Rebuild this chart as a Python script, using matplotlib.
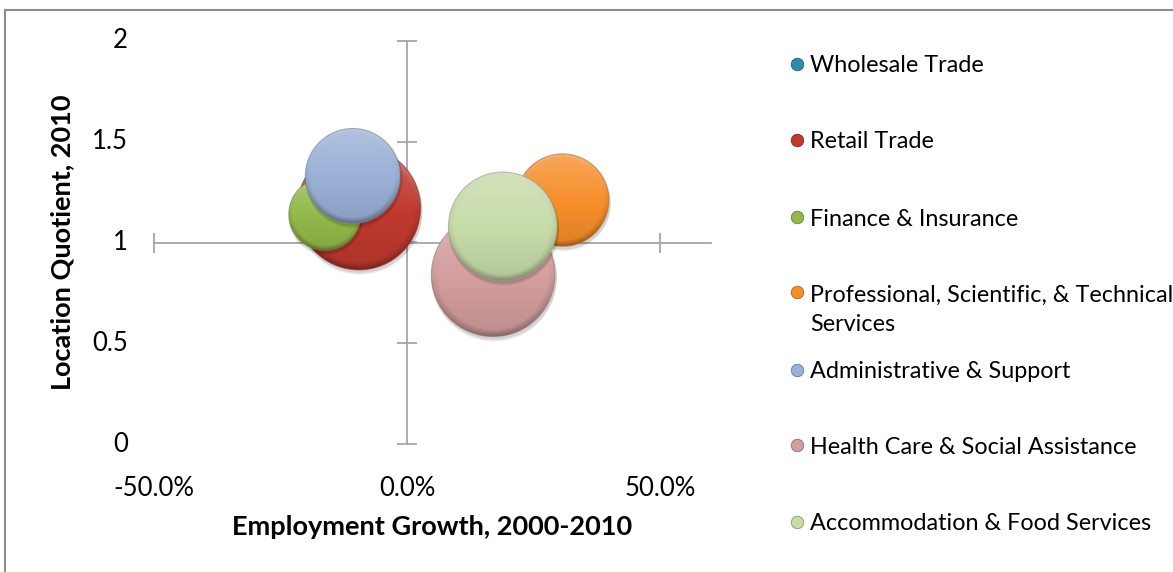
import numpy as np
import matplotlib
matplotlib.use('Agg')
import matplotlib.pyplot as plt
from matplotlib.patches import Ellipse, Rectangle
from matplotlib.transforms import blended_transform_factory
from matplotlib.colors import to_rgb

plt.rcParams['font.family'] = ['Lato', 'DejaVu Sans']

# data
industries = ['Wholesale Trade', 'Retail Trade', 'Finance & Insurance',
              'Professional, Scientific, & Technical\nServices',
              'Administrative & Support', 'Health Care & Social Assistance',
              'Accommodation & Food Services']
growth = [np.nan, -0.095, -0.162, 0.307, -0.107, 0.170, 0.189]
lq = [np.nan, 1.17, 1.14, 1.21, 1.33, 0.84, 1.08]
bubble_size = [np.nan, 3800, 1310, 2140, 2250, 3820, 2950]
colors = ['#2E8CA8', '#C0392F', '#92B94A', '#F68E2A', '#9AB0D6', '#D39D9D', '#C6DBA8']

xticks = [-0.5, 0.0, 0.5]
yticks = [0, 0.5, 1, 1.5, 2]

W, H = 1173, 572
fig = plt.figure(figsize=(W / 100, H / 100), dpi=100)

# plot area in pixels
x0, x1 = 153.7, 711.0
ytop, ybot = 40.7, 444.3
ax = fig.add_axes([x0 / W, (H - ybot) / H, (x1 - x0) / W, (ybot - ytop) / H])
ax.set_xlim(-0.5, 0.6)
ax.set_ylim(0, 2)
ax.patch.set_alpha(0)

ppx = (x1 - x0) / 1.1     # pixels per x unit
ppy = (ybot - ytop) / 2.0  # pixels per y unit

# axes crossing at (0, 1)
axis_col = '#A6A6A6'
for s in ['top', 'right']:
    ax.spines[s].set_visible(False)
ax.spines['left'].set_position(('data', 0))
ax.spines['bottom'].set_position(('data', 1))
ax.spines['left'].set_color(axis_col)
ax.spines['bottom'].set_color(axis_col)
ax.spines['left'].set_linewidth(1.3)
ax.spines['bottom'].set_linewidth(1.3)
ax.set_xticks(xticks)
ax.set_yticks(yticks)
ax.tick_params(direction='inout', length=14.4, width=1.3, color=axis_col,
               labelbottom=False, labelleft=False)


def shaded(c, n=200):
    c = np.array(to_rgb(c))
    yy, xx = np.mgrid[1:-1:n * 1j, -1:1:n * 1j]
    r = np.sqrt(xx ** 2 + yy ** 2)
    t = (yy + 1) / 2
    img = np.ones((n, n, 3)) * c
    light = np.clip((t - 0.45) / 0.55, 0, 1) * 0.22
    img = img + (1 - img) * light[..., None]
    dark = np.clip((0.45 - t) / 0.45, 0, 1) * 0.10
    img = img * (1 - dark[..., None])
    rim = np.clip((r - 0.88) / 0.12, 0, 1)
    # bright top rim, darker bottom rim
    top = rim * np.clip(yy, 0, 1) * 0.35
    bot = rim * np.clip(-yy, 0, 1) * 0.25 + rim * 0.06
    img = img + (1 - img) * top[..., None]
    img = img * (1 - bot[..., None])
    return np.clip(img, 0, 1)


z = 3
for gx, gy, sz, col in zip(growth, lq, bubble_size, colors):
    if np.isnan(sz):
        continue
    r = np.sqrt(sz)
    w, h = 2 * r / ppx, 2 * r / ppy
    # soft shadow
    for k, a in [(4, 0.05), (3, 0.06), (2, 0.07)]:
        sh = Ellipse((gx + 1 / ppx, gy - k / ppy), w + 2 / ppx, h + 2 / ppy,
                     color='black', alpha=a, lw=0, zorder=z)
        ax.add_patch(sh)
    e = Ellipse((gx, gy), w, h, facecolor='none', edgecolor='none', zorder=z + 1)
    ax.add_patch(e)
    im = ax.imshow(shaded(col), extent=[gx - w / 2, gx + w / 2, gy - h / 2, gy + h / 2],
                   aspect='auto', zorder=z + 1, interpolation='bilinear')
    im.set_clip_path(e)
    edge = np.array(to_rgb(col)) * 0.75
    ax.add_patch(Ellipse((gx, gy), w, h, facecolor='none', edgecolor=edge,
                         lw=0.8, alpha=0.6, zorder=z + 2))
    z += 3

ax.set_xlim(-0.5, 0.6)
ax.set_ylim(0, 2)

fs_tick = 18.5
fs_lab = 19.5
fs_leg = 16.8
# tick labels at the plot edges
ty = blended_transform_factory(fig.transFigure, ax.transData)
for v in yticks:
    ax.text(128 / W, v, '{:g}'.format(v), transform=ty, ha='right', va='center',
            fontsize=fs_tick, color='black')
tx = blended_transform_factory(ax.transData, fig.transFigure)
for v in xticks:
    ax.text(v, (H - 488) / H, '{:.1f}%'.format(v * 100), transform=tx, ha='center',
            va='center', fontsize=fs_tick, color='black')

fig.text(432 / W, (H - 527) / H, 'Employment Growth, 2000-2010', ha='center',
         va='center', fontsize=fs_lab, fontweight='bold')
fig.text(62 / W, (H - 242) / H, 'Location Quotient, 2010', ha='center',
         va='center', rotation=90, fontsize=fs_lab, fontweight='bold')

# legend
leg_y = [64, 140, 217, 292, 370, 445, 522]
for name, col, yy in zip(industries, colors, leg_y):
    fig.add_artist(plt.Line2D([797 / W], [(H - yy) / H], marker='o', markersize=9,
                              markerfacecolor=col,
                              markeredgecolor=np.array(to_rgb(col)) * 0.7,
                              markeredgewidth=0.6, transform=fig.transFigure))
    nl = name.count('\n')
    fig.text(810 / W, (H - yy - 2 - nl * 16) / H, name, ha='left', va='center',
             fontsize=fs_leg, linespacing=1.52)

# chart border
fig.add_artist(Rectangle((5 / W, -0.1), 1.2, (H - 10) / H + 0.1, transform=fig.transFigure,
                         fill=False, edgecolor='#8C8C8C', lw=1.5))

fig.savefig('out.png', dpi=100)
